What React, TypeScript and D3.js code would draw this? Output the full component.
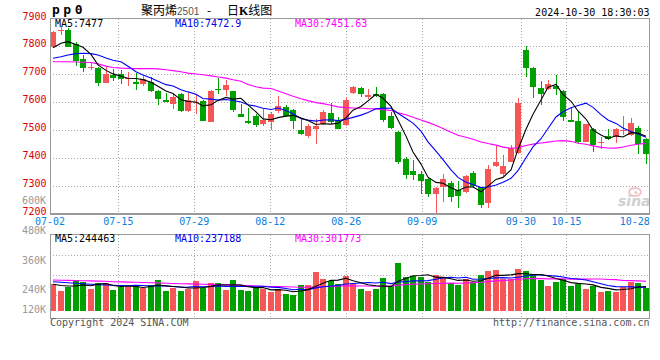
import React from 'react';
import * as d3 from 'd3';

const dates = [
  '07-02','07-03','07-04','07-05','07-08','07-09','07-10','07-11','07-12','07-15',
  '07-16','07-17','07-18','07-19','07-22','07-23','07-24','07-25','07-26','07-29',
  '07-30','07-31','08-01','08-02','08-05','08-06','08-07','08-08','08-09','08-12',
  '08-13','08-14','08-15','08-16','08-19','08-20','08-21','08-22','08-23','08-26',
  '08-27','08-28','08-29','08-30','09-02','09-03','09-04','09-05','09-06','09-09',
  '09-10','09-11','09-12','09-13','09-18','09-19','09-20','09-23','09-24','09-25',
  '09-26','09-27','09-30','10-08','10-09','10-10','10-11','10-14','10-15','10-16',
  '10-17','10-18','10-21','10-22','10-23','10-24','10-25','10-28','10-29','10-30',
];

const opens = [
  7796,7857,7860,7808,7756,7723,7723,7670,7697,7701,
  7682,7671,7664,7673,7641,7608,7593,7629,7568,7596,
  7605,7530,7648,7644,7638,7557,7532,7550,7521,7527,
  7568,7581,7572,7499,7478,7505,7520,7561,7532,7518,
  7631,7651,7617,7628,7629,7550,7494,7397,7353,7342,
  7324,7271,7296,7308,7284,7276,7347,7294,7239,7371,
  7342,7386,7416,7787,7724,7652,7646,7659,7641,7536,
  7532,7458,7503,7452,7478,7473,7495,7482,7508,7466,
];
const highs = [
  7855,7869,7866,7814,7769,7739,7725,7727,7719,7715,
  7709,7703,7694,7691,7643,7632,7629,7634,7632,7629,
  7607,7645,7688,7679,7640,7592,7578,7556,7580,7563,
  7622,7590,7575,7542,7520,7538,7572,7598,7548,7620,
  7658,7653,7646,7653,7631,7563,7496,7402,7392,7354,
  7330,7295,7342,7317,7317,7338,7354,7296,7374,7446,
  7410,7446,7616,7803,7726,7676,7679,7697,7643,7584,
  7563,7522,7506,7473,7503,7506,7551,7542,7514,7472,
];
const lows = [
  7793,7841,7797,7731,7707,7715,7656,7668,7674,7665,
  7659,7644,7656,7635,7590,7599,7574,7563,7566,7557,
  7531,7527,7629,7623,7563,7545,7521,7512,7515,7500,
  7560,7547,7504,7482,7472,7451,7518,7521,7502,7515,
  7629,7619,7612,7619,7529,7504,7378,7324,7320,7269,
  7258,7203,7243,7242,7221,7274,7293,7221,7221,7368,
  7336,7384,7414,7689,7616,7590,7643,7625,7532,7527,
  7452,7456,7422,7430,7464,7452,7482,7479,7414,7378,
];
const closes = [
  7853,7859,7799,7749,7724,7725,7670,7701,7686,7683,
  7688,7664,7682,7638,7611,7602,7620,7569,7608,7602,
  7533,7641,7646,7661,7572,7548,7524,7518,7536,7557,
  7586,7550,7533,7486,7514,7514,7563,7527,7503,7608,
  7653,7630,7627,7622,7536,7507,7386,7338,7338,7318,
  7271,7293,7324,7258,7264,7336,7299,7231,7360,7386,
  7372,7434,7598,7721,7655,7629,7664,7646,7545,7530,
  7455,7520,7446,7458,7467,7503,7499,7524,7450,7412,
];
const volumes = [
  267000,200000,243000,310000,287000,220000,283000,277000,210000,237000,
  243000,260000,227000,260000,310000,200000,227000,200000,220000,300000,
  227000,283000,283000,210000,310000,210000,200000,237000,217000,193000,
  220000,170000,160000,260000,260000,393000,320000,300000,270000,353000,
  270000,220000,200000,220000,333000,250000,483000,343000,353000,343000,
  293000,360000,333000,283000,260000,317000,293000,360000,403000,410000,
  317000,317000,420000,400000,370000,310000,250000,293000,317000,250000,
  270000,220000,250000,193000,200000,193000,237000,287000,283000,227000,
];

// moving-average values before a full window exists
const ma5Head = [7795, 7811, 7817, 7807];
const ma10Head = [7757, 7763, 7769, 7774, 7775, 7774, 7769, 7758, 7750];
const ma30Head = [
  7745,7745,7745,7744,7743,7742,7737,7729,7724,7722,
  7721,7720,7720,7720,7719,7716,7713,7709,7704,7701,
  7698,7694,7690,7686,7680,7675,7663,7655,7650,
];
const vma5Head = [267000, 255000, 250000, 250000];
const vma10Head = [293000, 288000, 283000, 278000, 273000, 268000, 264000, 260000, 257000];
const vma30Head = [
  310000,308000,306000,305000,303000,301000,299000,297000,293000,291000,
  289000,287000,285000,283000,281000,278000,275000,273000,271000,269000,
  267000,266000,265000,264000,262000,258000,254000,250000,247000,
];

const priceTicks = [7900, 7800, 7700, 7600, 7500, 7400, 7300, 7200];
const volTicks = [600000, 480000, 360000, 240000, 120000];
const dateTicks = ['07-02','07-15','07-29','08-12','08-26','09-09','09-30','10-15','10-28'];
const gridDates = ['07-15','07-29','08-12','08-26','09-09','09-30','10-15'];

const maLabels = ['MA5:7477', 'MA10:7472.9', 'MA30:7451.63'];
const volMaLabels = ['MA5:244463', 'MA10:237188', 'MA30:301773'];

const RED = '#f65656';
const GREEN = '#00a000';
const MONO = '"DejaVu Sans Mono", "Liberation Mono", monospace';

function movingAvg(vals: number[], n: number, head: number[]) {
  return vals.map((_, i) => (i < n - 1 ? head[i] : d3.mean(vals.slice(i - n + 1, i + 1)) as number));
}

export default function App() {
  const L = 50, R = 649.5;
  const mainTop = 18.5, mainBot = 213.5;
  const volTop = 234.5, volBot = 318.5, volBase = 311;

  const x = d3.scaleBand<string>().domain(dates).range([50, 650]);
  const xg = d3.scalePoint<string>().domain(dates).range([50, 650]);
  const y = d3.scaleLinear().domain([7200, 7900]).range([mainBot, mainTop]);
  const yv = d3.scaleLinear().domain([0, 800000]).range([volBase, volBase - 80]);
  const yvLabel = d3.scaleLinear().domain([240000, 600000]).range([293.3, 204]);

  const cx = (i: number) => Math.round(x(dates[i]) as number) + 3;

  const ma5 = movingAvg(closes, 5, ma5Head);
  const ma10 = movingAvg(closes, 10, ma10Head);
  const ma30 = movingAvg(closes, 30, ma30Head);
  const vma5 = movingAvg(volumes, 5, vma5Head);
  const vma10 = movingAvg(volumes, 10, vma10Head);
  const vma30 = movingAvg(volumes, 30, vma30Head);

  const lineP = d3.line<number>().x((_, i) => cx(i)).y((v) => y(v));
  const lineV = d3.line<number>().x((_, i) => cx(i)).y((v) => yv(v));

  const hGrid = [7800, 7700, 7600, 7500, 7400, 7300];
  const volGrid = d3.range(1, 4).map((k) => volTop + 1 + k * 20);

  return (
    <svg width={660} height={360} style={{ position: 'absolute', left: 0, top: 0, background: '#fff' }}
      fontFamily={MONO}>
      <defs>
        <clipPath id="mainClip"><rect x={L} y={mainTop} width={R - L} height={mainBot - mainTop} /></clipPath>
        <clipPath id="volClip"><rect x={L} y={volTop} width={R - L} height={volBot - volTop} /></clipPath>
      </defs>
      <rect x={0} y={0} width={660} height={360} fill="#fff" />

      {/* header */}
      <text x={52} y={13.5} fontSize={13} fontWeight="bold" letterSpacing={3.5} fill="#000">pp0</text>
      <text y={14.5} fontSize={12} fontFamily='"Noto Sans CJK SC", sans-serif' fill="#000">
        <tspan x={141}>聚丙烯</tspan>
        <tspan fontSize={10} fontFamily='"Liberation Sans", sans-serif' fill="#555">2501</tspan>
        <tspan x={207}>-</tspan>
        <tspan x={227}>日</tspan>
        <tspan fontWeight="bold" fontFamily='"Liberation Serif", serif'>K</tspan>
        <tspan>线图</tspan>
      </text>
      <text x={649.5} y={15.7} fontSize={10} textAnchor="end" fill="#000">2024-10-30 18:30:03</text>

      {/* main grid */}
      <g stroke="#aaa" strokeDasharray="1,2" shapeRendering="crispEdges">
        {hGrid.map((v) => <line key={v} x1={L} x2={R} y1={Math.round(y(v)) + 0.5} y2={Math.round(y(v)) + 0.5} />)}
        {gridDates.map((d) => (
          <line key={d} x1={Math.round(xg(d) as number) + 0.5} x2={Math.round(xg(d) as number) + 0.5} y1={mainTop} y2={mainBot} />
        ))}
      </g>

      {/* volume grid */}
      <g stroke="#aaa" strokeDasharray="1,2" shapeRendering="crispEdges">
        {volGrid.map((g) => <line key={g} x1={L} x2={R} y1={g} y2={g} />)}
        {gridDates.map((d) => (
          <line key={d} x1={Math.round(xg(d) as number) + 0.5} x2={Math.round(xg(d) as number) + 0.5} y1={volTop} y2={volBot} />
        ))}
      </g>

      {/* candles */}
      <g clipPath="url(#mainClip)" shapeRendering="crispEdges">
        {dates.map((d, i) => {
          const up = closes[i] >= opens[i];
          const col = up ? RED : GREEN;
          const bx = Math.round(x(d) as number);
          const top = y(Math.max(opens[i], closes[i]));
          const bot = y(Math.min(opens[i], closes[i]));
          return (
            <g key={d}>
              <rect x={bx + 2.5} y={y(highs[i])} width={1} height={y(lows[i]) - y(highs[i])} fill={col} />
              <rect x={bx} y={top} width={6} height={Math.max(1, bot - top)} fill={col} />
            </g>
          );
        })}
      </g>

      {/* main MA lines */}
      <g clipPath="url(#mainClip)" fill="none" strokeWidth={1.1}>
        <path d={lineP(ma30) as string} stroke="#ff00ff" />
        <path d={lineP(ma10) as string} stroke="#0000ff" />
        <path d={lineP(ma5) as string} stroke="#000" />
      </g>

      {/* volume bars */}
      <g clipPath="url(#volClip)" shapeRendering="crispEdges">
        {dates.map((d, i) => {
          const up = closes[i] >= opens[i];
          const bx = Math.round(x(d) as number);
          return <rect key={d} x={bx} y={yv(volumes[i])} width={6} height={volBase - yv(volumes[i])} fill={up ? RED : GREEN} />;
        })}
      </g>
      <g clipPath="url(#volClip)" fill="none" strokeWidth={1.1}>
        <path d={lineV(vma30) as string} stroke="#ff00ff" />
        <path d={lineV(vma10) as string} stroke="#0000ff" />
        <path d={lineV(vma5) as string} stroke="#000" />
      </g>

      {/* frames */}
      <g fill="none" stroke="#9a9a9a" shapeRendering="crispEdges">
        <rect x={L} y={mainTop} width={R - L} height={mainBot - mainTop} />
        <line x1={L} x2={R} y1={mainBot + 0.5} y2={mainBot + 0.5} strokeWidth={2} />
        <rect x={L} y={volTop} width={R - L} height={volBot - volTop} />
      </g>

      {/* watermark */}
      <g opacity={0.55}>
        <ellipse cx={635} cy={192} rx={6} ry={4} fill="none" stroke="#e39a9a" strokeWidth={2} />
        <circle cx={636} cy={192.5} r={1.6} fill="#e39a9a" />
        <text x={618} y={206} fontSize={14} fontStyle="italic" fontWeight="bold" fontFamily='"DejaVu Sans", sans-serif' fill="#aaa">sina</text>
      </g>

      {/* price axis labels */}
      {priceTicks.map((v) => (
        <text key={v} x={46.5} y={y(v) + 1} fontSize={10} textAnchor="end" fill="#e00000">{v}</text>
      ))}
      {/* volume axis labels */}
      {volTicks.map((v) => (
        <text key={v} x={46} y={Math.min(yvLabel(v), 312.7)} fontSize={10} textAnchor="end" fill="#999">{`${v / 1000}K`}</text>
      ))}
      {/* date labels */}
      {dateTicks.map((d) => (
        <text key={d} x={xg(d) as number} y={225} fontSize={10} textAnchor="middle" fill="#0a80e0">{d}</text>
      ))}

      {/* MA legends */}
      <g fontSize={10}>
        <text x={55} y={26.7} fill="#000">{maLabels[0]}</text>
        <text x={175} y={26.7} fill="#0000ee">{maLabels[1]}</text>
        <text x={295} y={26.7} fill="#ff00ff">{maLabels[2]}</text>
        <text x={55} y={241.7} fill="#000">{volMaLabels[0]}</text>
        <text x={175} y={241.7} fill="#0000ee">{volMaLabels[1]}</text>
        <text x={295} y={241.7} fill="#ff00ff">{volMaLabels[2]}</text>
      </g>

      {/* footer */}
      <text x={50} y={326} fontSize={10} fill="#555">Copyright 2024 SINA.COM</text>
      <text x={649.5} y={326} fontSize={10} textAnchor="end" fill="#555">http://finance.sina.com.cn</text>
    </svg>
  );
}
